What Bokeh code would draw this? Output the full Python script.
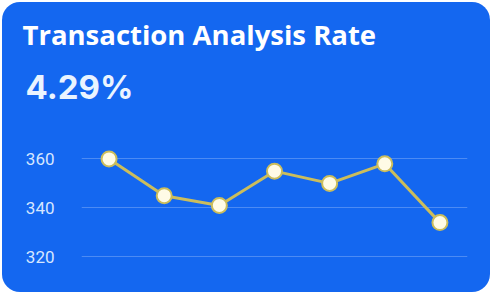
from bokeh.plotting import figure
from bokeh.models import Range1d, FixedTicker, Title
from bokeh.embed import file_html
from bokeh.resources import INLINE

# Data
points = [0, 1, 2, 3, 4, 5, 6]
values = [360, 345, 341, 355, 350, 358, 334]
y_ticks = [320, 340, 360]
title_text = "Transaction Analysis Rate"
kpi_text = "4.29%"

CARD = "#1467F0"

p = figure(width=488, height=290, output_backend="svg", toolbar_location=None,
           x_range=Range1d(-0.5, 6.5), y_range=Range1d(312, 372),
           min_border_left=79, min_border_right=23, min_border_top=127, min_border_bottom=16,
           background_fill_color=None, border_fill_color=None, outline_line_color=None,
           margin=(2, 2, 2, 2),
           styles={"border-radius": "18px", "overflow": "hidden", "background-color": CARD})

p.xaxis.visible = False
p.xgrid.visible = False
p.ygrid.grid_line_color = "#5a95f5"
p.ygrid.grid_line_width = 1
p.ygrid.grid_line_alpha = 0.8
p.yaxis.ticker = FixedTicker(ticks=y_ticks)
p.yaxis.axis_line_color = None
p.yaxis.major_tick_line_color = None
p.yaxis.minor_tick_line_color = None
p.yaxis.major_label_standoff = 21
p.yaxis.major_label_text_color = "#d6e6ff"
p.yaxis.major_label_text_font = "Roboto"
p.yaxis.major_label_text_font_size = "17px"

p.line(points, values, line_color="#cbbd5c", line_width=3)
p.scatter(points, values, size=15, fill_color="#fffbe6", line_color="#cbbd5c", line_width=2)

p.title.visible = False
p.add_layout(Title(text=kpi_text, align="left", offset=-56, standoff=46,
                   text_color="#eaf4ff", text_font="Inter", text_font_style="bold",
                   text_font_size="33px"), "above")
p.add_layout(Title(text=title_text, align="left", offset=-59, standoff=-23,
                   text_color="white", text_font="Open Sans", text_font_style="bold",
                   text_font_size="27.5px"), "above")

open("out.html", "w").write(file_html(p, INLINE))
